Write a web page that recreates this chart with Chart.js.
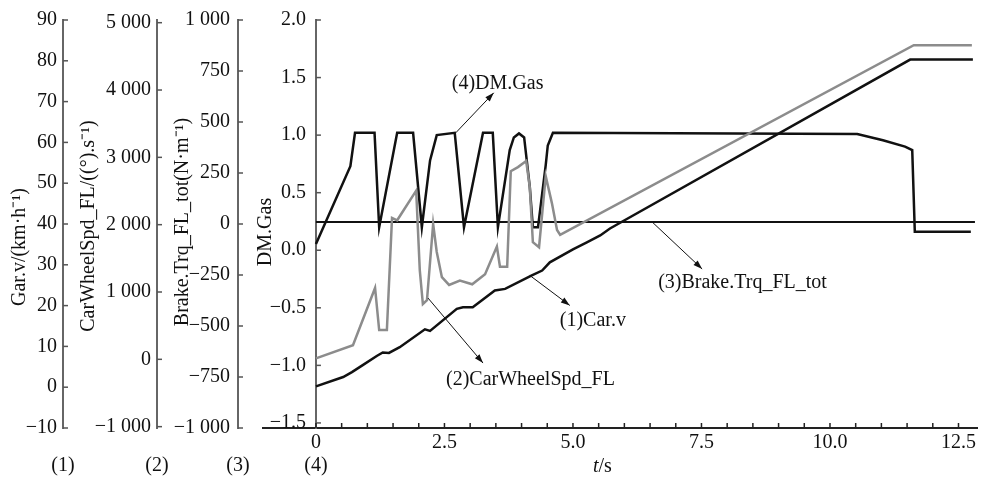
<!DOCTYPE html>
<html>
<head>
<meta charset="utf-8">
<script src="https://cdn.jsdelivr.net/npm/chart.js@4.4.1/dist/chart.umd.min.js"></script>
<style>
  html, body { margin: 0; padding: 0; background: #fff; }
  #wrap { width: 981px; height: 477px; }
</style>
</head>
<body>
<div id="wrap"><canvas id="myChart"></canvas></div>
<script>
// (1) Car.v, km/h
const timeCarV = [0, 0.53, 0.70, 0.91, 1.19, 1.30, 1.42, 1.63, 2.12, 2.22, 2.74, 2.86, 3.05, 3.48, 3.68, 4.20, 4.40, 4.55, 5.00, 5.27, 5.53, 5.72, 11.56, 12.78];
const carV = [0.2, 2.5, 3.7, 5.4, 7.7, 8.5, 8.4, 9.8, 14.2, 13.8, 19.2, 19.6, 19.6, 23.7, 24.1, 27.4, 28.6, 30.6, 33.8, 35.5, 37.2, 38.9, 80.3, 80.3];

// (2) CarWheelSpd_FL, deg/s
const timeWheel = [0, 0.72, 1.15, 1.23, 1.38, 1.48, 1.58, 1.95, 2.02, 2.08, 2.16, 2.28, 2.35, 2.45, 2.59, 2.80, 3.04, 3.29, 3.52, 3.58, 3.72, 3.79, 3.93, 4.09, 4.16, 4.22, 4.34, 4.47, 4.59, 4.69, 4.75, 11.63, 12.76];
const wheelSpd = [15, 210, 1060, 435, 435, 2100, 2065, 2505, 1325, 820, 880, 2010, 1595, 1220, 1105, 1170, 1115, 1265, 1675, 1375, 1375, 2795, 2855, 2945, 2555, 1740, 1665, 2720, 2320, 1920, 1850, 4665, 4665];
const wheelTicks = [-1000, 0, 1000, 2000, 3000, 4000, 5000];

// (3) Brake.Trq_FL_tot, N.m
const timeBrake = [0, 12.82];
const brakeTrq = [10, 10];

// (4) DM.Gas
const timeGas = [0, 0.67, 0.76, 1.14, 1.23, 1.58, 1.89, 2.06, 2.22, 2.35, 2.70, 2.88, 3.25, 3.44, 3.54, 3.77, 3.85, 3.95, 4.05, 4.16, 4.22, 4.32, 4.47, 4.51, 4.61, 10.53, 11.03, 11.46, 11.60, 11.65, 12.74];
const dmGas = [0.055, 0.73, 1.02, 1.02, 0.20, 1.02, 1.02, 0.20, 0.78, 1.0, 1.02, 0.20, 1.02, 1.02, 0.20, 0.87, 0.98, 1.015, 0.98, 0.55, 0.20, 0.20, 0.74, 0.91, 1.02, 1.01, 0.955, 0.90, 0.87, 0.16, 0.16];

const pts = (xs, ys) => xs.map((t, i) => ({ x: t, y: ys[i] }));
const minus = s => String(s).replace('-', '\u2212');
const thousands = v => {
  v = Math.round(v);
  if (Math.abs(v) < 1000) return minus(v);
  return (v < 0 ? '\u2212' : '') + Math.floor(Math.abs(v) / 1000) + ' ' + String(Math.abs(v) % 1000).padStart(3, '0');
};

const serif = "'Liberation Serif', 'Times New Roman', serif";
Chart.defaults.font.family = serif;
Chart.defaults.font.size = 20;
Chart.defaults.color = '#111';

const axisTitles = [
  { scale: 'yCar', text: 'Gar.v/(km\u00b7h\u207b\u00b9)', dx: 20, y: 247 },
  { scale: 'yWheel', text: 'CarWheelSpd_FL/((\u00b0).s\u207b\u00b9)', dx: 26, y: 226 },
  { scale: 'yBrake', text: 'Brake.Trq_FL_tot(N\u00b7m\u207b\u00b9)', dx: 26, y: 222 },
];

const notes = [
  { text: '(4)DM.Gas', axis: 'yGas', at: [2.72, 1.02], tip: [38, -40], label: [-4, -49] },
  { text: '(1)Car.v', axis: 'yCar', at: [4.16, 27.4], tip: [40, 30], label: [30, 45] },
  { text: '(2)CarWheelSpd_FL', axis: 'yWheel', at: [2.18, 910], tip: [55, 65], label: [18, 82] },
  { text: '(3)Brake.Trq_FL_tot', axis: 'yBrake', at: [6.54, 10], tip: [50, 47], label: [6, 61] },
];

function leftAxis(min, max, step, weight, width, pad, fmt) {
  return {
    type: 'linear', position: 'left', min, max, weight,
    grid: { display: false, drawTicks: false },
    border: { display: true, color: '#666', width: 2 },
    ticks: { stepSize: step, includeBounds: false, maxTicksLimit: 100, padding: pad, callback: fmt },
    afterFit: s => { s.width = width; },
  };
}

const overlay = {
  id: 'overlay',
  afterDraw(chart) {
    const ctx = chart.ctx;
    const sc = chart.scales;
    const xs = sc.x;
    const bottom = chart.chartArea.bottom;
    const gasX = xs.getPixelForValue(0);
    const line = (a, b, c, d) => { ctx.beginPath(); ctx.moveTo(a, b); ctx.lineTo(c, d); ctx.stroke(); };
    ctx.save();

    // inward ticks
    ctx.strokeStyle = '#555';
    ctx.lineWidth = 1.5;
    [[sc.yCar, sc.yCar.right], [sc.yWheel, sc.yWheel.right], [sc.yBrake, sc.yBrake.right], [sc.yGas, gasX]].forEach(([s, ax]) => {
      s.ticks.forEach(t => {
        const py = s.getPixelForValue(t.value);
        line(ax, py, ax + 5, py);
      });
    });
    ctx.strokeStyle = '#222';
    xs.ticks.forEach(t => {
      if (t.value < -1e-9) return;
      const px = xs.getPixelForValue(t.value);
      line(px, bottom, px, bottom - 5);
    });

    // axis titles
    ctx.fillStyle = '#111';
    ctx.font = '20px ' + serif;
    ctx.textAlign = 'center';
    ctx.textBaseline = 'middle';
    const vertical = (txt, x, y) => {
      ctx.save(); ctx.translate(x, y); ctx.rotate(-Math.PI / 2); ctx.fillText(txt, 0, 0); ctx.restore();
    };
    axisTitles.forEach(a => vertical(a.text, sc[a.scale].left + a.dx, a.y));
    vertical('DM.Gas', gasX - 50, 232);

    // axis numbers
    [sc.yCar.right, sc.yWheel.right, sc.yBrake.right, gasX].forEach((px, i) => {
      ctx.fillText('(' + (i + 1) + ')', px, 466);
    });

    // x title: italic t
    ctx.textAlign = 'left';
    ctx.font = 'italic 20px ' + serif;
    const tw = ctx.measureText('t').width;
    ctx.fillText('t', 593, 467);
    ctx.font = '20px ' + serif;
    ctx.fillText('/s', 593 + tw, 467);

    // annotations
    ctx.lineWidth = 1;
    ctx.strokeStyle = '#111';
    notes.forEach(n => {
      const x0 = xs.getPixelForValue(n.at[0]);
      const y0 = sc[n.axis].getPixelForValue(n.at[1]);
      const x1 = x0 + n.tip[0], y1 = y0 + n.tip[1];
      line(x0, y0, x1, y1);
      const ang = Math.atan2(y1 - y0, x1 - x0);
      ctx.beginPath();
      ctx.moveTo(x1, y1);
      ctx.lineTo(x1 - 9 * Math.cos(ang) + 3 * Math.sin(ang), y1 - 9 * Math.sin(ang) - 3 * Math.cos(ang));
      ctx.lineTo(x1 - 9 * Math.cos(ang) - 3 * Math.sin(ang), y1 - 9 * Math.sin(ang) + 3 * Math.cos(ang));
      ctx.closePath();
      ctx.fill();
      ctx.font = '20px ' + serif;
      ctx.fillText(n.text, x0 + n.label[0], y0 + n.label[1]);
    });
    ctx.restore();
  },
};

const yWheelAxis = leftAxis(-1020, 5040, 1000, 3, 94, 6, thousands);
yWheelAxis.afterBuildTicks = s => { s.ticks = wheelTicks.map(v => ({ value: v })); };

const ctx = document.getElementById('myChart').getContext('2d');
const myChart = new Chart(ctx, {
  type: 'line',
  data: {
    datasets: [
      { label: 'CarWheelSpd_FL', data: pts(timeWheel, wheelSpd), yAxisID: 'yWheel', borderColor: '#8c8c8c', borderWidth: 2.5 },
      { label: 'Brake.Trq_FL_tot', data: pts(timeBrake, brakeTrq), yAxisID: 'yBrake', borderColor: '#111', borderWidth: 2 },
      { label: 'Car.v', data: pts(timeCarV, carV), yAxisID: 'yCar', borderColor: '#111', borderWidth: 2.5 },
      { label: 'DM.Gas', data: pts(timeGas, dmGas), yAxisID: 'yGas', borderColor: '#111', borderWidth: 2.5 },
    ],
  },
  options: {
    responsive: true,
    maintainAspectRatio: false,
    animation: false,
    events: [],
    layout: { padding: { top: 19, right: 4, left: 0, bottom: 0 } },
    elements: { point: { radius: 0 }, line: { tension: 0, fill: false } },
    plugins: { legend: { display: false }, tooltip: { enabled: false } },
    scales: {
      x: {
        type: 'linear', min: -1.03, max: 12.86,
        grid: { display: false, drawTicks: false },
        border: { display: true, color: '#222', width: 2 },
        ticks: {
          stepSize: 0.5, includeBounds: false, autoSkip: false, maxRotation: 0, maxTicksLimit: 100, padding: 3,
          callback: v => {
            if (v < -1e-9 || Math.abs(v / 2.5 - Math.round(v / 2.5)) > 1e-6) return '';
            return Math.abs(v) < 1e-9 ? '0' : v.toFixed(1);
          },
        },
        afterFit: s => { s.height = 49; },
      },
      yCar: leftAxis(-10, 90, 10, 4, 63, 6, v => minus(Math.round(v))),
      yWheel: yWheelAxis,
      yBrake: leftAxis(-1000, 1000, 250, 2, 81, 8, thousands),
      ySpace: {
        type: 'linear', position: 'left', weight: 1,
        grid: { display: false }, border: { display: false }, ticks: { display: false },
        afterFit: s => { s.width = 25; },
      },
      yGas: {
        type: 'linear', position: { x: 0 }, min: -1.544, max: 2.0,
        grid: { display: false, drawTicks: false },
        border: { display: true, color: '#666', width: 2 },
        ticks: { stepSize: 0.5, includeBounds: false, maxTicksLimit: 100, callback: v => minus(v.toFixed(1)) + '  ' },
      },
    },
  },
  plugins: [overlay],
});
</script>
</body>
</html>
